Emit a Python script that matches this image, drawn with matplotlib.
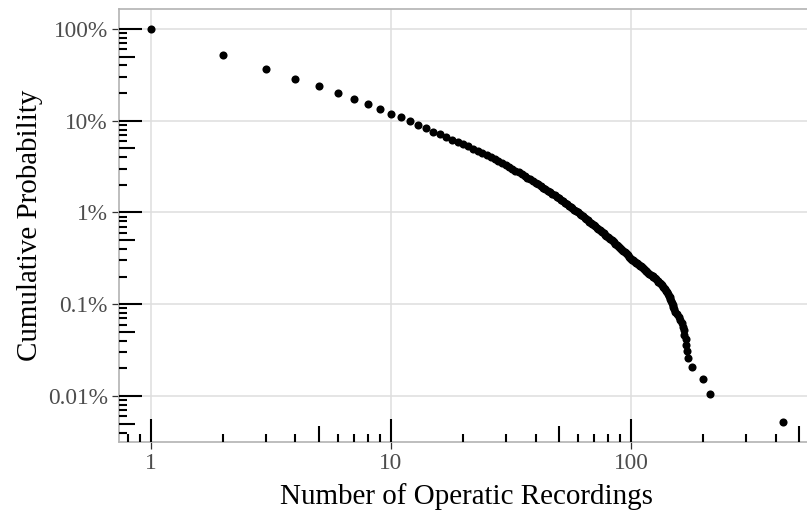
import matplotlib.pyplot as plt
import matplotlib.transforms as mtransforms
import matplotlib.ticker as mticker

plt.rcParams['font.family'] = ['Liberation Serif', 'DejaVu Serif']

# --- DATA ---
# number of operatic recordings (x) and P(X >= x) in percent (y)
recordings = [
    1, 2, 3, 4, 5, 6, 7, 8, 9, 10,
    11, 12, 13, 14, 15, 16, 17, 18, 19, 20,
    21, 22, 23, 24, 25, 26, 27, 28, 29, 30,
    31, 32, 33, 34, 35, 36, 37, 38, 39, 40,
    41, 42, 43, 44, 45, 46, 47, 48, 49, 50,
    51, 52, 53, 54, 55, 56, 57, 58, 59, 60,
    61, 62, 63, 64, 65, 66, 67, 68, 69, 70,
    71, 72, 73, 74, 75, 76, 77, 78, 79, 80,
    81, 82, 83, 84, 85, 86, 87, 88, 89, 90,
    91, 92, 93, 94, 95, 96, 97, 98, 99, 100,
    101, 102, 103, 104, 105, 106, 107, 108, 109, 110,
    111, 112, 113, 114, 115, 116, 117,
    118, 119, 121, 123, 124, 126, 127, 129, 130, 132,
    133, 135, 136, 137, 138, 140, 141, 142, 144, 145,
    146, 147, 148, 149, 150, 151, 152,
    155, 158, 160, 163, 164, 166, 167,
    169, 170, 171, 172, 180, 200, 213, 429,
]
cum_prob_pct = [
    100, 52.5, 36.9, 28.7, 23.7, 20.1, 17.1, 15.1, 13.4, 11.85,
    11.0, 9.94, 9.06, 8.34, 7.60, 7.11, 6.59, 6.22, 5.87, 5.58,
    5.25, 4.95, 4.69, 4.44, 4.22, 4.00, 3.80, 3.61, 3.44, 3.28,
    3.13, 2.98, 2.85, 2.73, 2.61, 2.50, 2.39, 2.29, 2.20, 2.12,
    2.03, 1.94, 1.86, 1.79, 1.72, 1.66, 1.60, 1.54, 1.48, 1.43,
    1.38, 1.33, 1.28, 1.23, 1.19, 1.15, 1.11, 1.07, 1.04, 1.00,
    0.969, 0.937, 0.906, 0.876, 0.848, 0.822, 0.796, 0.772, 0.748, 0.726,
    0.705, 0.684, 0.665, 0.646, 0.628, 0.609, 0.591, 0.574, 0.557, 0.541,
    0.526, 0.511, 0.497, 0.484, 0.471, 0.458, 0.446, 0.435, 0.424, 0.413,
    0.401, 0.390, 0.379, 0.369, 0.359, 0.349, 0.340, 0.331, 0.322, 0.314,
    0.306, 0.301, 0.295, 0.290, 0.285, 0.280, 0.275, 0.269, 0.264, 0.259,
    0.254, 0.249, 0.244, 0.238, 0.233, 0.228, 0.223,
    0.218, 0.212, 0.207, 0.202, 0.197, 0.192, 0.187, 0.181, 0.176, 0.171,
    0.166, 0.161, 0.155, 0.150, 0.145, 0.140, 0.135, 0.130, 0.124, 0.119,
    0.114, 0.109, 0.104, 0.0984, 0.0933, 0.0881, 0.0829,
    0.0777, 0.0725, 0.0674, 0.0622, 0.0570, 0.0518, 0.0466,
    0.0414, 0.0363, 0.0311, 0.0259, 0.0207, 0.0155, 0.0104, 0.0052,
]

x_breaks = [1, 10, 100]
x_labels = ["1", "10", "100"]
y_breaks = [0.0001, 0.001, 0.01, 0.1, 1]
y_labels = ["0.01%", "0.1%", "1%", "10%", "100%"]

# --- FIGURE ---
W, H = 807, 514
fig = plt.figure(figsize=(W / 100, H / 100), dpi=100)
px_left, px_right, px_top, px_bottom = 119.4, 814.4, 9.3, 441.9
ax = fig.add_axes([px_left / W, 1 - px_bottom / H,
                   (px_right - px_left) / W, (px_bottom - px_top) / H])
panel_w = px_right - px_left
panel_h = px_bottom - px_top

ax.scatter(recordings, [p / 100 for p in cum_prob_pct], s=34, color="black",
           linewidths=0, zorder=3)

ax.set_xscale("log")
ax.set_yscale("log")
xmin, xmax = 10 ** -0.1316, 10 ** 2.764
ymin, ymax = 10 ** -4.5, 10 ** 0.2143
ax.set_xlim(xmin, xmax)
ax.set_ylim(ymin, ymax)

ax.set_xticks(x_breaks)
ax.set_xticklabels(x_labels)
ax.set_yticks(y_breaks)
ax.set_yticklabels(y_labels)
ax.xaxis.set_minor_locator(mticker.NullLocator())
ax.yaxis.set_minor_locator(mticker.NullLocator())
ax.tick_params(axis="both", which="major", length=5.3, width=0.9,
               color="#333333", labelcolor="#4D4D4D", labelsize=16.8, pad=3)

ax.grid(True, which="major", color="#DEDEDE", linewidth=1.1, zorder=0)
ax.set_axisbelow(True)
for sp in ax.spines.values():
    sp.set_color("#B3B3B3")
    sp.set_linewidth(1.2)

ax.set_xlabel("Number of Operatic Recordings", fontsize=20.9, labelpad=6)
ax.set_ylabel("Cumulative Probability", fontsize=20.9, labelpad=3.5)

# --- annotation log ticks (short / mid / long) ---
tick_len = {"long": 23, "mid": 15.5, "short": 8}
tx = mtransforms.blended_transform_factory(ax.transData, ax.transAxes)
ty = mtransforms.blended_transform_factory(ax.transAxes, ax.transData)
for dec in range(-5, 4):
    for m in range(1, 10):
        v = m * 10.0 ** dec
        kind = "long" if m == 1 else ("mid" if m == 5 else "short")
        if xmin <= v <= xmax:
            ax.plot([v, v], [0, tick_len[kind] / panel_h], transform=tx,
                    color="black", lw=1.5, solid_capstyle="butt",
                    clip_on=False, zorder=4)
        if ymin <= v <= ymax:
            ax.plot([0, tick_len[kind] / panel_w], [v, v], transform=ty,
                    color="black", lw=1.5, solid_capstyle="butt",
                    clip_on=False, zorder=4)

fig.savefig("out.png", dpi=100)
